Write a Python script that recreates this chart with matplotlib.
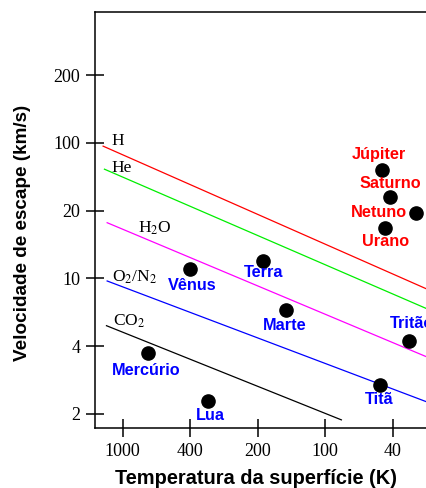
import matplotlib
matplotlib.use("Agg")
import matplotlib.pyplot as plt

# axis tick labels (schematic, evenly spaced)
temp_labels = ["1000", "400", "200", "100", "40"]
vel_labels = ["2", "4", "10", "20", "100", "200"]

# bodies: position along temperature axis / velocity axis (tick units)
bodies = ["Júpiter", "Saturno", "Netuno", "Urano", "Terra", "Marte",
          "Tritão", "Titã", "Vênus", "Mercúrio", "Lua"]
body_t = [3.84, 3.96, 4.35, 3.89, 2.08, 2.42, 4.24, 3.81, 0.99, 0.38, 1.27]
body_v = [3.60, 3.20, 2.96, 2.74, 2.26, 1.53, 1.08, 0.43, 2.14, 0.90, 0.19]
giant = [True, True, True, True, False, False, False, False, False, False, False]

# gas retention lines (start/end in tick units)
gases = ["H", "He", r"H$_2$O", r"O$_2$/N$_2$", r"CO$_2$"]
gas_t0 = [-0.29, -0.27, -0.23, -0.23, -0.24]
gas_v0 = [3.95, 3.61, 2.82, 1.96, 1.30]
gas_t1 = [4.60, 4.60, 4.60, 4.60, 3.24]
gas_v1 = [1.80, 1.51, 0.80, 0.14, -0.09]
gas_colors = ["#ff0000", "#00ee00", "#ff00ff", "#0000ff", "#000000"]

# label placement (pixels from marker) and gas label anchors
body_off = [(-3, 15), (0, 13), (-37, 1), (0, -13), (1, -12), (-1, -15),
            (3, 17), (-1, -15), (3, -17), (-2, -18), (2, -15)]
gas_lab_t = [-0.17, -0.16, 0.23, -0.16, -0.14]
gas_lab_v = [4.03, 3.63, 2.74, 2.02, 1.36]

plt.rcParams["mathtext.fontset"] = "stix"
serif = "Liberation Serif"
sans = "Liberation Sans"

fig = plt.figure(figsize=(4.26, 4.88), dpi=100)
ax_px = 426 - 95 + 5
ax = fig.add_axes([95 / 426, 60 / 488, ax_px / 426, 416 / 488])

for i in range(len(gases)):
    ax.plot([gas_t0[i], gas_t1[i]], [gas_v0[i], gas_v1[i]], color=gas_colors[i], lw=0.9)
    ax.text(gas_lab_t[i], gas_lab_v[i], gases[i], fontsize=12.5, family=serif,
            ha="left", va="center")

ax.plot(body_t, body_v, "o", color="black", markersize=9.5, ls="none", zorder=3)
for i, name in enumerate(bodies):
    ax.annotate(name, (body_t[i], body_v[i]), xytext=body_off[i],
                textcoords="offset pixels", ha="center", va="center",
                color="#ff0000" if giant[i] else "#0000ff",
                fontsize=11.7, fontweight="bold", family=sans, annotation_clip=False)

ax.set_xlim(-0.41, -0.41 + ax_px / 67.5)
ax.set_ylim(-0.21, 5.93)
ax.set_xticks(range(len(temp_labels)))
ax.set_xticklabels(temp_labels, family=serif, fontsize=13)
ax.set_yticks(range(len(vel_labels)))
ax.set_yticklabels(vel_labels, family=serif, fontsize=13)
ax.tick_params(direction="inout", length=13, width=1.1, pad=4)
ax.spines["right"].set_visible(False)
for s in ["left", "bottom", "top"]:
    ax.spines[s].set_linewidth(1.1)

fig.text(23 / 426, 1 - 233 / 488, "Velocidade de escape (km/s)", rotation=90,
         ha="center", va="center", fontsize=13.6, fontweight="bold", family=sans)
fig.text(256 / 426, 1 - 479 / 488, "Temperatura da superfície (K)",
         ha="center", va="center", fontsize=14.4, fontweight="bold", family=sans)

fig.savefig("out.png", dpi=100)
